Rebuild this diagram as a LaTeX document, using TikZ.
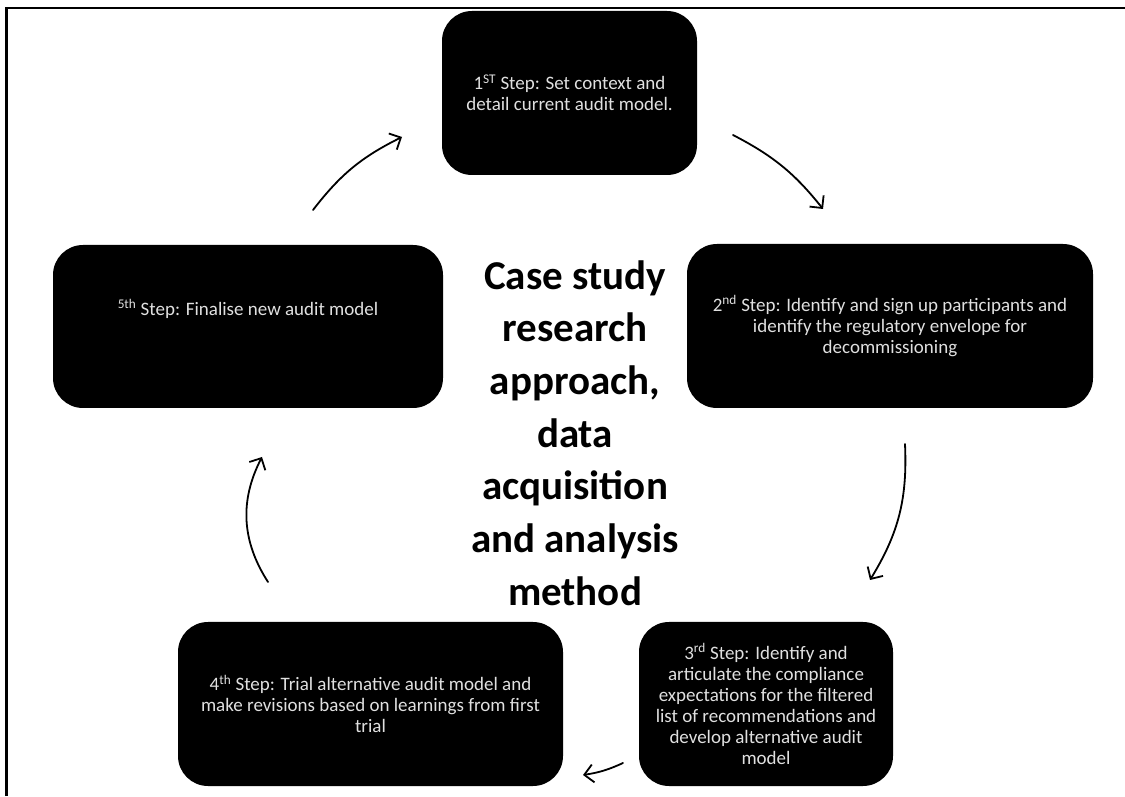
\documentclass[tikz,border=0pt]{standalone}
\usepackage{fontspec}
\setmainfont{Carlito}
\usetikzlibrary{arrows.meta}

\begin{document}
\begin{tikzpicture}[x=1pt,y=1pt,
  stepbox/.style={fill=black, rounded corners=30pt, text=white!88!black,
    align=center, font=\fontsize{19}{21}\selectfont, inner sep=0pt},
  flow/.style={-{Straight Barb[length=9pt,width=18pt]}, line width=1.8pt, line cap=round},
  title/.style={font=\bfseries\fontsize{41}{52.7}\selectfont, align=center}]
\useasboundingbox (0,0) rectangle (1125,796);

% frame: top and left edges
\draw[line width=2.6pt] (6.5,0) -- (6.5,788) -- (1125,788);

% the five steps
\node[stepbox, minimum width=255pt, minimum height=164pt] (s1) at (569.5,703)
  {1\textsuperscript{ST} Step: Set context and\\detail current audit model.};
\node[stepbox, minimum width=406pt, minimum height=164pt] (s2) at (890,470)
  {2\textsuperscript{nd} Step: Identify and sign up participants and\\identify the regulatory envelope for\\decommissioning};
\node[stepbox, minimum width=254pt, minimum height=164pt] (s3) at (766,92)
  {3\textsuperscript{rd} Step: Identify and\\articulate the compliance\\expectations for the filtered\\list of recommendations and\\develop alternative audit\\model};
\node[stepbox, minimum width=385pt, minimum height=164pt] (s4) at (370.5,92)
  {4\textsuperscript{th} Step: Trial alternative audit model and\\make revisions based on learnings from first\\trial};
\node[stepbox, minimum width=390pt, minimum height=163pt, text depth=38pt] (s5) at (248,469.5)
  {\textsuperscript{5th} Step: Finalise new audit model};

% centre title
\node[title] (t) at (575,363)
  {Case study\\research\\approach,\\data\\acquisition\\and analysis\\method};

% arrow end points
\coordinate (a1s) at (733,661);  \coordinate (a1e) at (823,587);
\coordinate (a2s) at (905,352);  \coordinate (a2e) at (870,216);
\coordinate (a3s) at (623,33);   \coordinate (a3e) at (583,21);
\coordinate (a4s) at (268,214);  \coordinate (a4e) at (262,339);
\coordinate (a5s) at (313,586);  \coordinate (a5e) at (402,659);

% clockwise cycle
\draw[flow] (a1s) to[bend left=12] (a1e);
\draw[flow] (a2s) to[bend left=17] (a2e);
\draw[flow] (a3s) to[bend left=8] (a3e);
\draw[flow] (a4s) to[bend left=30] (a4e);
\draw[flow] (a5s) to[bend left=13] (a5e);
\end{tikzpicture}
\end{document}
